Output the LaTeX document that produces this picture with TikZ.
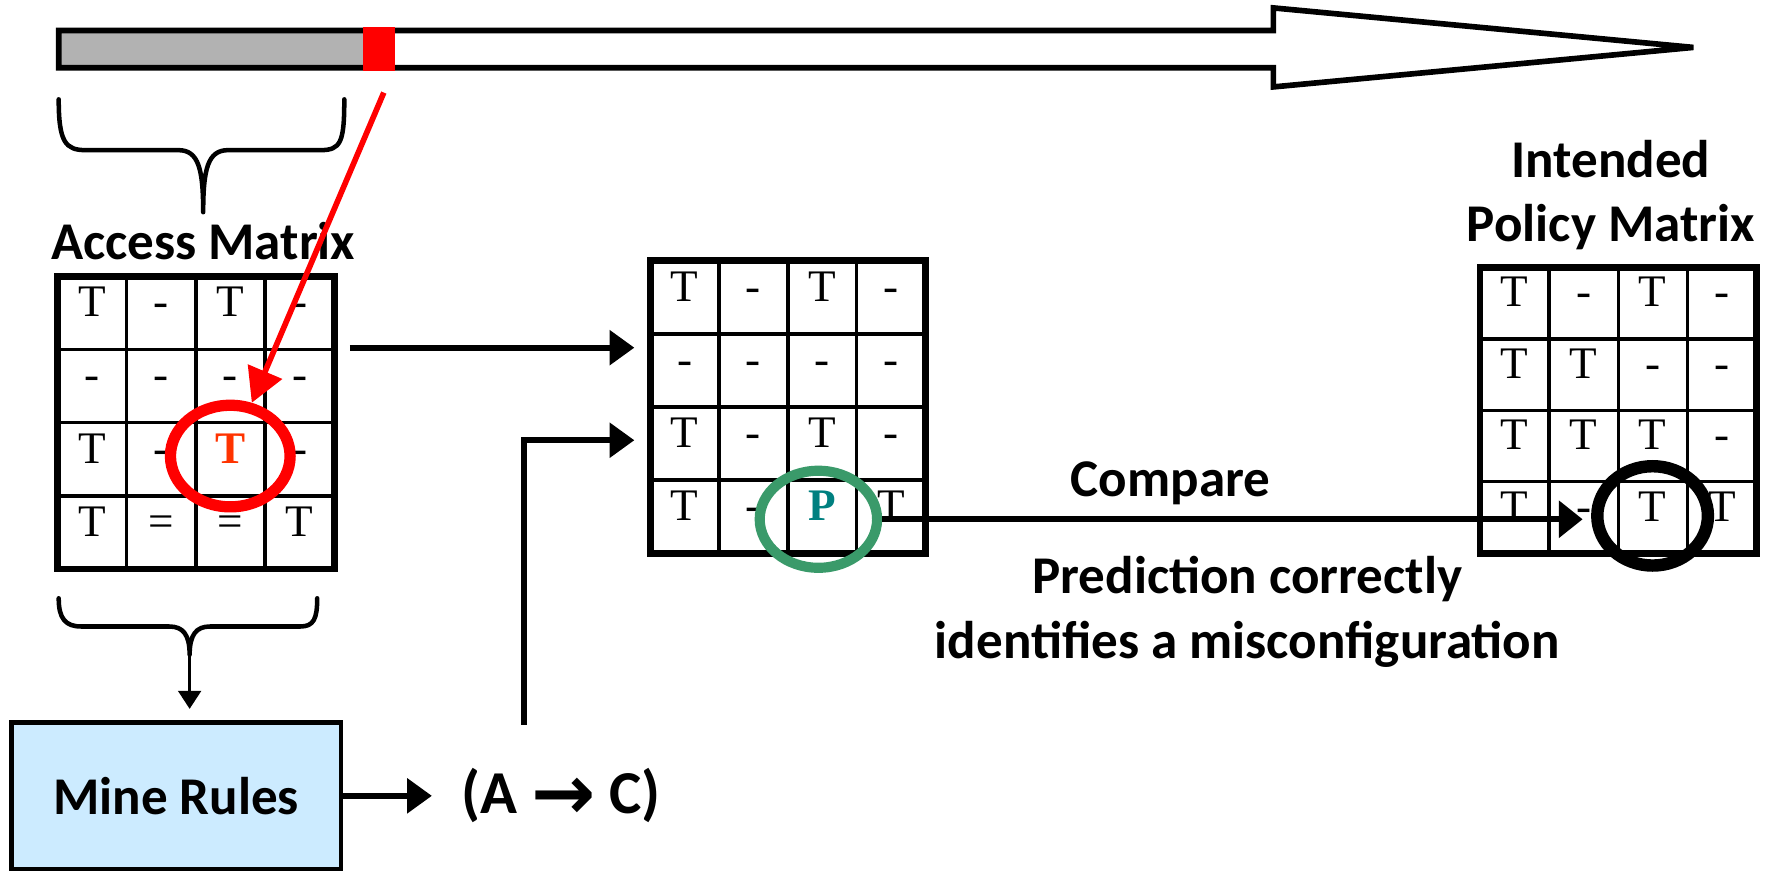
\documentclass[tikz,border=0pt]{standalone}
\usepackage{fontspec}
\setmainfont{Liberation Serif}
\newfontfamily\labfont{Carlito}
\newfontfamily\symfont{DejaVu Sans}
\usetikzlibrary{arrows.meta,calc,shapes.geometric}
\definecolor{tred}{HTML}{FF3300}
\definecolor{pteal}{HTML}{008080}
\definecolor{cgreen}{HTML}{3A9A6A}
\definecolor{lblue}{HTML}{CCEBFF}
\definecolor{bargray}{HTML}{B2B2B2}
\tikzset{
 cell/.style={inner sep=0pt, text height=0.66em, text depth=0pt, font=\fontsize{40}{42}\selectfont},
 gridouter/.style={line width=6pt},
 gridinner/.style={line width=3pt},
 lbl/.style={font=\labfont\bfseries\fontsize{47}{57}\selectfont, align=center, inner sep=0pt},
 bigarrow/.style={line width=5.5pt, -{Triangle[length=22pt,width=30pt]}},
 ring/.style={ellipse, draw, inner sep=0pt},
 brace/.style={line width=4pt, line join=round, line cap=round},
}
\newcommand\mkgrid[5]{%
  \coordinate (#1-nw) at (#2,#3);
  \foreach \k in {1,2,3}{
    \draw[gridinner] ({#2+\k*#4},#3) -- ({#2+\k*#4},{#3+4*#5});
    \draw[gridinner] (#2,{#3+\k*#5}) -- ({#2+4*#4},{#3+\k*#5});
  }
  \draw[gridouter] (#2,#3) rectangle ({#2+4*#4},{#3+4*#5});
}
\newcommand\mkcells[6]{%
  \foreach \row [count=\r] in {#6}{
    \foreach \v [count=\c] in \row {
      \node[cell] (#1-\r-\c) at ({#2+(\c-0.5)*#4},{#3+(\r-0.5)*#5}) {\v};
    }
  }
}
\begin{document}
\begin{tikzpicture}[x=1pt,y=-1pt]
\useasboundingbox (0,0) rectangle (1568,771);

% time bar arrow
\fill[bargray] (52,27) rectangle (322,60);
\draw[line width=5pt] (52,27) -- (1128,27) -- (1128,7) -- (1500,42) -- (1128,77) -- (1128,60) -- (52,60) -- cycle;
\node[fill=red, minimum width=28pt, minimum height=39pt, inner sep=0pt] (redseg) at (336,43.5) {};

% brace under bar
\draw[brace] (52,88) .. controls (52,126) and (58,133) .. (76,133) -- (158,133)
  .. controls (176,133) and (180,150) .. (180,188)
  .. controls (180,150) and (184,133) .. (202,133) -- (284,133)
  .. controls (302,133) and (305,126) .. (305,88);

% labels
\node[lbl] (acclabel) at (180,214) {Access Matrix};
\node[lbl] (pollabel) at (1427,173) {Intended\\Policy Matrix};
\node[lbl] (cmp) at (1037,428) {Compare};
\node[lbl] (pred) at (1105,542) {Prediction correctly\\identifies a misconfiguration};

% grids
\mkgrid{acc}{51}{245}{61.25}{64.75}
\mkcells{acc}{51}{245}{61.25}{64.75}{{T,-,T,-},{-,-,-,-},{T,-,{\color{tred}\bfseries T},-},{T,=,=,T}}
\mkgrid{mid}{576}{231}{61}{64.75}
\mkcells{mid}{576}{231}{61}{64.75}{{T,-,T,-},{-,-,-,-},{T,-,T,-},{T,-,{\color{pteal}\bfseries P},T}}
\mkgrid{pol}{1311}{237}{61.25}{63.25}
\mkcells{pol}{1311}{237}{61.25}{63.25}{{T,-,T,-},{T,T,-,-},{T,T,T,-},{T,-,T,T}}

% circles
\node[ring, draw=red, line width=10pt, minimum width=106pt, minimum height=90pt] (redcirc) at (204,404) {};
\node[ring, draw=cgreen, line width=9pt, minimum width=104pt, minimum height=86pt] (gcirc) at (725,460) {};

% red arrow
\coordinate (redstart) at (340,82);
\draw[line width=5pt, red, -{Triangle[length=30pt,width=32pt]}] (redstart) -- (redcirc.68);

% brace under access matrix
\draw[brace] (52,530) .. controls (52,548) and (58,555) .. (72,555) -- (150,555)
  .. controls (162,555) and (168,562) .. (168,580)
  .. controls (168,562) and (174,555) .. (186,555) -- (266,555)
  .. controls (278,555) and (281,548) .. (281,530);

% mine rules box and rule
\node[lbl, draw, fill=lblue, line width=4pt, minimum width=292pt, minimum height=130pt] (mine) at (156,705) {Mine Rules};
\node[lbl, font=\labfont\bfseries\fontsize{54}{60}\selectfont] (rule) at (497,705) {(A \raisebox{-5pt}{\symfont\fontsize{68}{68}\selectfont →} C)};

\coordinate (bracetip) at (168,578);
\draw[line width=3pt, -{Triangle[length=16pt,width=20pt]}, shorten >=10pt] (bracetip) -- (mine.north -| bracetip);
\draw[bigarrow, shorten >=26pt] (mine.east) -- (rule.west);

% arrows into middle grid
\coordinate (accout) at (310,308);
\draw[bigarrow, shorten >=14pt] (accout) -- (accout -| mid-nw);
\coordinate (ruletop) at (464,642);
\coordinate (midrow) at (0,390);
\draw[bigarrow, shorten >=14pt] (ruletop) |- (mid-nw |- midrow);

% compare arrow
\coordinate (cmpend) at (1402,460);
\draw[line width=5pt, -{Triangle[length=21pt,width=32pt]}] (gcirc.east) -- (cmpend);
\node[ring, draw=black, line width=11pt, minimum width=98pt, minimum height=88pt] (bcirc) at (1464,457) {};
\end{tikzpicture}
\end{document}
